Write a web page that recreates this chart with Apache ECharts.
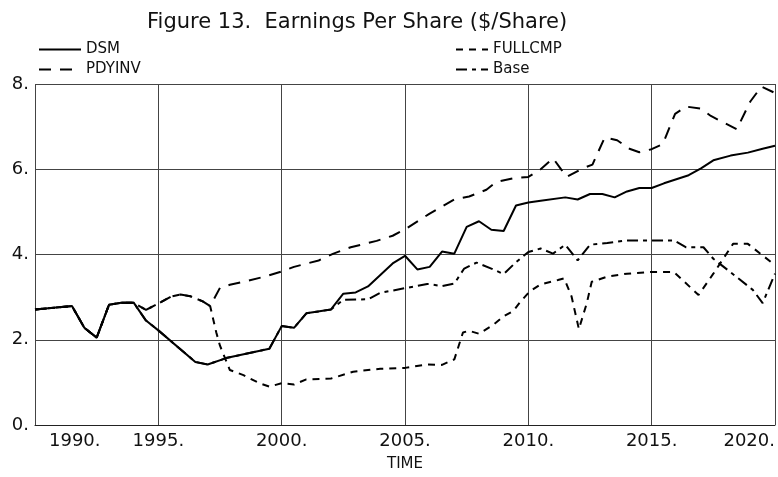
<!DOCTYPE html>
<html>
<head>
<meta charset="utf-8">
<script src="https://cdn.jsdelivr.net/npm/echarts@6/dist/echarts.min.js"></script>
<style>
  html, body { margin: 0; padding: 0; background: #fff; }
  #chartContent { width: 778px; height: 477px; }
</style>
</head>
<body>
<div id="chartContent"></div>
<script>
// 公共起点 (所有情景在1994年前相同)
var commonYears = [1990, 1991.5, 1992, 1992.5, 1993, 1993.5, 1994];
var commonValues = [2.71, 2.79, 2.28, 2.05, 2.82, 2.87, 2.87];

// DSM - solid
var dsmYears = [1994.5, 1995, 1996.5, 1997, 1997.75, 1999.5, 2000, 2000.5, 2001, 2002,
  2002.5, 2003, 2003.5, 2004, 2004.5, 2005, 2005.5, 2006, 2006.5, 2007,
  2007.5, 2008, 2008.5, 2009, 2009.5, 2010, 2010.5, 2011.5, 2012, 2012.5,
  2013, 2013.5, 2014, 2014.5, 2015, 2015.5, 2016.5, 2017, 2017.5, 2018.2,
  2018.9, 2019.5, 2020];
var dsmValues = [2.45, 2.22, 1.48, 1.42, 1.57, 1.79, 2.32, 2.28, 2.62, 2.71,
  3.08, 3.11, 3.25, 3.52, 3.79, 3.97, 3.65, 3.71, 4.07, 4.02,
  4.65, 4.78, 4.58, 4.55, 5.15, 5.22, 5.26, 5.34, 5.29, 5.42,
  5.42, 5.34, 5.48, 5.56, 5.56, 5.67, 5.86, 6.02, 6.21, 6.32,
  6.39, 6.48, 6.55];

// Base - 2002年前与DSM相同
var baseYears = [1994.5, 1995, 1996.5, 1997, 1997.75, 1999.5, 2000, 2000.5, 2001, 2002,
  2002.5, 2003.5, 2004, 2005, 2005.9, 2006.5, 2007, 2007.4, 2007.9, 2008.5,
  2009, 2009.5, 2010, 2010.5, 2011, 2011.5, 2012, 2012.5, 2013.2, 2014,
  2015, 2015.9, 2016.4, 2017.1, 2017.5, 2018.1, 2019.1, 2019.5, 2020];
var baseValues = [2.45, 2.22, 1.48, 1.42, 1.57, 1.79, 2.32, 2.28, 2.62, 2.71,
  2.94, 2.95, 3.10, 3.21, 3.31, 3.26, 3.32, 3.67, 3.81, 3.67,
  3.54, 3.82, 4.06, 4.14, 4.02, 4.23, 3.86, 4.23, 4.27, 4.33,
  4.33, 4.33, 4.17, 4.17, 3.90, 3.63, 3.17, 2.86, 3.55];

// PDYINV - long dash
var pdyYears = [1994.5, 1995, 1995.5, 1995.9, 1996.3, 1996.8, 1997.1, 1997.5, 1997.9, 1998.6,
  1999.3, 2000, 2000.5, 2001.5, 2002.1, 2002.8, 2003.85, 2004.5, 2005, 2006,
  2007, 2007.6, 2008.3, 2008.7, 2009.4, 2010, 2010.5, 2011, 2011.3, 2011.55,
  2012.2, 2012.6, 2013.1, 2013.6, 2014.1, 2014.5, 2015, 2015.45, 2015.95, 2016.4,
  2017, 2017.4, 2018.45, 2019, 2019.45, 2020];
var pdyValues = [2.70, 2.85, 3.01, 3.06, 3.02, 2.90, 2.79, 3.22, 3.29, 3.38,
  3.48, 3.60, 3.71, 3.86, 4.02, 4.17, 4.32, 4.44, 4.59, 4.96,
  5.29, 5.36, 5.52, 5.70, 5.79, 5.82, 6.00, 6.26, 6.02, 5.82,
  6.02, 6.11, 6.75, 6.68, 6.48, 6.40, 6.47, 6.59, 7.30, 7.47,
  7.42, 7.25, 6.94, 7.59, 7.94, 7.79];

// FULLCMP - short dash, 1997年前与PDYINV相同
var fullYears = [1994.5, 1995, 1995.5, 1995.9, 1996.3, 1996.8, 1997.1, 1997.35, 1997.5, 1997.9,
  1998.45, 1999.1, 1999.5, 2000, 2000.5, 2001, 2002, 2002.9, 2004, 2005,
  2005.9, 2006.5, 2007, 2007.35, 2007.6, 2008, 2008.6, 2009, 2009.4, 2009.66,
  2010.05, 2010.5, 2011.2, 2011.45, 2011.75, 2012.05, 2012.37, 2012.57, 2013.2, 2014,
  2015, 2015.9, 2016.9, 2017.5, 2018.3, 2018.9, 2020];
var fullValues = [2.70, 2.85, 3.01, 3.06, 3.02, 2.90, 2.79, 2.17, 1.86, 1.29,
  1.17, 0.98, 0.90, 0.98, 0.95, 1.07, 1.09, 1.25, 1.32, 1.34,
  1.42, 1.41, 1.54, 2.17, 2.21, 2.14, 2.36, 2.55, 2.68, 2.88,
  3.13, 3.30, 3.40, 3.44, 3.02, 2.25, 2.86, 3.36, 3.48, 3.55,
  3.59, 3.59, 3.05, 3.55, 4.25, 4.25, 3.75];

// 坐标轴刻度
var xTicks = [1990, 1995, 2000, 2005, 2010, 2015, 2020];
var yTicks = [0, 2, 4, 6, 8];

function pairs(years, values) {
  var ys = commonYears.concat(years);
  var vs = commonValues.concat(values);
  var out = [];
  for (var i = 0; i < ys.length; i++) {
    out.push([ys[i], vs[i]]);
  }
  return out;
}

var font = 'DejaVu Sans';

var optionContent = {
  backgroundColor: '#fff',
  animation: false,
  title: {
    text: 'Figure 13.  Earnings Per Share ($/Share)',
    left: 142,
    top: 7,
    textStyle: { fontFamily: font, fontSize: 21, fontWeight: 'normal', color: '#111' }
  },
  legend: [{
    data: ['DSM', 'PDYINV'],
    orient: 'vertical',
    left: 33,
    top: 37,
    itemGap: 5,
    itemWidth: 42,
    itemHeight: 14,
    itemStyle: { opacity: 0 },
    textStyle: { fontFamily: font, fontSize: 15, color: '#111' }
  }, {
    data: ['FULLCMP', 'Base'],
    orient: 'vertical',
    left: 450,
    top: 37,
    itemGap: 5,
    itemWidth: 32,
    itemHeight: 14,
    itemStyle: { opacity: 0 },
    textStyle: { fontFamily: font, fontSize: 15, color: '#111' }
  }],
  grid: {
    left: 35,
    right: 3,
    top: 84,
    bottom: 46,
    containLabel: false
  },
  xAxis: {
    type: 'value',
    min: xTicks[0],
    max: xTicks[xTicks.length - 1],
    interval: 5,
    name: 'TIME',
    nameLocation: 'middle',
    nameGap: 32,
    nameTextStyle: { fontFamily: font, fontSize: 15, color: '#111' },
    axisLine: { show: true, lineStyle: { color: '#222', width: 1 } },
    axisTick: { show: false },
    axisLabel: {
      fontFamily: font,
      fontSize: 18,
      color: '#111',
      margin: 7,
      alignMinLabel: 'left',
      alignMaxLabel: 'right',
      formatter: function (v) {
        return v === xTicks[0] ? '{first|' + v + '.}' : v + '.';
      },
      rich: {
        first: { fontFamily: font, fontSize: 18, color: '#111', padding: [0, 0, 0, 14] }
      }
    },
    splitLine: { show: true, lineStyle: { color: '#444', width: 1 } }
  },
  yAxis: {
    type: 'value',
    min: yTicks[0],
    max: yTicks[yTicks.length - 1],
    interval: 2,
    axisLine: { show: false },
    axisTick: { show: false },
    axisLabel: {
      fontFamily: font,
      fontSize: 18,
      color: '#111',
      margin: 6,
      padding: [6, 0, 0, 0],
      formatter: function (v) { return v + '.'; }
    },
    splitLine: { show: true, lineStyle: { color: '#444', width: 1 } }
  },
  series: [
    {
      name: 'DSM', type: 'line', symbol: 'none', z: 5,
      data: pairs(dsmYears, dsmValues),
      lineStyle: { color: '#000', width: 2, type: 'solid' },
      itemStyle: { color: '#000' }
    },
    {
      name: 'FULLCMP', type: 'line', symbol: 'none', z: 3,
      data: pairs(fullYears, fullValues),
      lineStyle: { color: '#000', width: 2, type: [7, 6] },
      itemStyle: { color: '#000' }
    },
    {
      name: 'PDYINV', type: 'line', symbol: 'none', z: 4,
      data: pairs(pdyYears, pdyValues),
      lineStyle: { color: '#000', width: 2, type: [12, 9] },
      itemStyle: { color: '#000' }
    },
    {
      name: 'Base', type: 'line', symbol: 'none', z: 2,
      data: pairs(baseYears, baseValues),
      lineStyle: { color: '#000', width: 2, type: [11, 5, 4, 5] },
      itemStyle: { color: '#000' }
    }
  ]
};

var myChart = echarts.init(document.getElementById('chartContent'));
myChart.setOption(optionContent);
</script>
</body>
</html>
